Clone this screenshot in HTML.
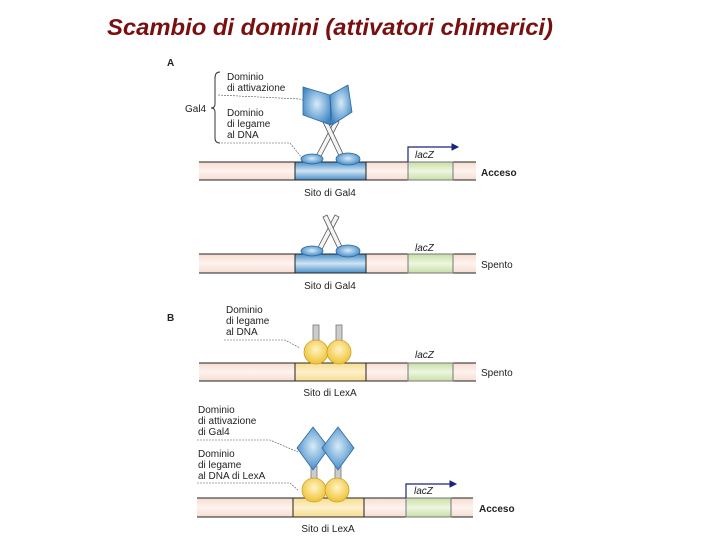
<!DOCTYPE html>
<html><head><style>body{margin:0;background:#fff}svg{display:block}</style></head><body>
<svg width="720" height="540" viewBox="0 0 720 540" xmlns="http://www.w3.org/2000/svg" font-family="Liberation Sans, sans-serif">
<defs>
<linearGradient id="pink" x1="0" y1="0" x2="0" y2="1"><stop offset="0" stop-color="#f6ddd2"/><stop offset="0.5" stop-color="#fdf3ee"/><stop offset="1" stop-color="#f6ddd2"/></linearGradient>
<linearGradient id="blueb" x1="0" y1="0" x2="0" y2="1"><stop offset="0" stop-color="#4a8fc8"/><stop offset="0.5" stop-color="#cfe4f4"/><stop offset="1" stop-color="#4a8fc8"/></linearGradient>
<linearGradient id="green" x1="0" y1="0" x2="0" y2="1"><stop offset="0" stop-color="#c7dfa6"/><stop offset="0.5" stop-color="#eef6e0"/><stop offset="1" stop-color="#c7dfa6"/></linearGradient>
<linearGradient id="yel" x1="0" y1="0" x2="0" y2="1"><stop offset="0" stop-color="#f7dc8e"/><stop offset="0.5" stop-color="#fdf1cc"/><stop offset="1" stop-color="#f7dc8e"/></linearGradient>
<radialGradient id="bp" cx="0.5" cy="0.45" r="0.6"><stop offset="0" stop-color="#d6ebf9"/><stop offset="1" stop-color="#3d85c3"/></radialGradient>
<radialGradient id="yp" cx="0.5" cy="0.4" r="0.6"><stop offset="0" stop-color="#fff4c4"/><stop offset="1" stop-color="#efc235"/></radialGradient>
</defs>
<text x="107" y="35" font-size="23" font-weight="bold" font-style="italic" fill="#7a0f0f" textLength="446" lengthAdjust="spacingAndGlyphs">Scambio di domini (attivatori chimerici)</text>

<g font-size="10" fill="#222">
<text x="167" y="66" font-weight="bold">A</text>
<text x="185" y="112">Gal4</text>
<text x="227" y="80">Dominio</text><text x="227" y="91">di attivazione</text>
<text x="227" y="116">Dominio</text><text x="227" y="127">di legame</text><text x="227" y="138">al DNA</text>
<text x="167" y="321" font-weight="bold">B</text>
<text x="226" y="313">Dominio</text><text x="226" y="324">di legame</text><text x="226" y="335">al DNA</text>
<text x="198" y="413">Dominio</text><text x="198" y="424">di attivazione</text><text x="198" y="435">di Gal4</text>
<text x="198" y="457">Dominio</text><text x="198" y="468">di legame</text><text x="198" y="479">al DNA di LexA</text>
</g>
<path d="M220 72 Q215 72 215 78 L215 104 Q215 108 211 108 Q215 108 215 112 L215 138 Q215 143 220 143" fill="none" stroke="#333" stroke-width="1"/>
<g stroke="#555" stroke-width="0.6" stroke-dasharray="2,1" fill="none">
<path d="M218 95 L300 99 L307 102"/><path d="M218 143 L290 143 L302 158"/>
<path d="M224 340 L285 340 L300 348"/><path d="M197 440 L270 440 L298 452"/><path d="M197 483 L290 483 L298 490"/>
</g>

<g stroke="#222" stroke-width="1">
<rect x="199" y="162" width="277" height="18" fill="url(#pink)" stroke="none"/><line x1="199" y1="162" x2="476" y2="162"/><line x1="199" y1="180" x2="476" y2="180"/>
<rect x="295" y="162" width="71" height="18" fill="url(#blueb)"/>
<rect x="408" y="162" width="45" height="18" fill="url(#green)" stroke="#777"/>
<rect x="199" y="254" width="277" height="19" fill="url(#pink)" stroke="none"/><line x1="199" y1="254" x2="476" y2="254"/><line x1="199" y1="273" x2="476" y2="273"/>
<rect x="295" y="254" width="71" height="19" fill="url(#blueb)"/>
<rect x="408" y="254" width="45" height="19" fill="url(#green)" stroke="#777"/>
<rect x="199" y="363" width="277" height="18" fill="url(#pink)" stroke="none"/><line x1="199" y1="363" x2="476" y2="363"/><line x1="199" y1="381" x2="476" y2="381"/>
<rect x="295" y="363" width="71" height="18" fill="url(#yel)"/>
<rect x="408" y="363" width="45" height="18" fill="url(#green)" stroke="#777"/>
<rect x="197" y="498" width="276" height="19" fill="url(#pink)" stroke="none"/><line x1="197" y1="498" x2="473" y2="498"/><line x1="197" y1="517" x2="473" y2="517"/>
<rect x="293" y="498" width="71" height="19" fill="url(#yel)"/>
<rect x="406" y="498" width="45" height="19" fill="url(#green)" stroke="#777"/>
</g>
<g fill="#1a237e" stroke="#1a237e">
<path d="M408 162 V147 H452" fill="none" stroke-width="1.2"/><path d="M452 144 L458 147 L452 150Z"/>
<path d="M406 498 V484 H450" fill="none" stroke-width="1.2"/><path d="M450 481 L456 484 L450 487Z"/>
</g>
<g font-size="10" fill="#222">
<text x="415" y="158" font-style="italic">lacZ</text><text x="415" y="251" font-style="italic">lacZ</text>
<text x="415" y="358" font-style="italic">lacZ</text><text x="414" y="494" font-style="italic">lacZ</text>
<text x="481" y="176" font-weight="bold">Acceso</text><text x="481" y="268">Spento</text>
<text x="481" y="376">Spento</text><text x="479" y="512" font-weight="bold">Acceso</text>
<text x="330" y="196" text-anchor="middle">Sito di Gal4</text><text x="330" y="289" text-anchor="middle">Sito di Gal4</text>
<text x="330" y="396" text-anchor="middle">Sito di LexA</text><text x="328" y="532" text-anchor="middle">Sito di LexA</text>
</g>

<g stroke="#555" stroke-width="0.8" fill="#f4f4f4">
<path d="M315 158 L335 120 L339 122 L319 160Z"/><path d="M345 158 L327 120 L323 122 L341 160Z"/>
<path d="M315 253 L335 215 L339 217 L319 255Z"/><path d="M345 253 L327 215 L323 217 L341 255Z"/>
</g>
<g fill="url(#bp)" stroke="#2a6aa3" stroke-width="0.8">
<path d="M303 87 L330 95 L331 125 L303 115Z"/>
<path d="M330 95 L348 85 L352 112 L332 125Z"/>
<ellipse cx="312" cy="159" rx="11" ry="5"/><ellipse cx="348" cy="159" rx="12" ry="6"/>
<ellipse cx="312" cy="251" rx="11" ry="5"/><ellipse cx="348" cy="251" rx="12" ry="6"/>
</g>

<g fill="#ccc" stroke="#777" stroke-width="0.8">
<rect x="313" y="325" width="6" height="18"/><rect x="336" y="325" width="6" height="18"/>
<rect x="311" y="466" width="6" height="14"/><rect x="335" y="466" width="6" height="14"/>
</g>
<g fill="url(#yp)" stroke="#c9a02a" stroke-width="0.8">
<circle cx="316" cy="352" r="12"/><circle cx="339" cy="352" r="12"/>
<circle cx="314" cy="490" r="12"/><circle cx="337" cy="490" r="12"/>
</g>
<g fill="url(#bp)" stroke="#2a6aa3" stroke-width="0.8">
<path d="M313 427 L329 448 L313 470 L297 448Z"/>
<path d="M338 427 L354 448 L338 470 L322 448Z"/>
</g>
</svg>
</body></html>
